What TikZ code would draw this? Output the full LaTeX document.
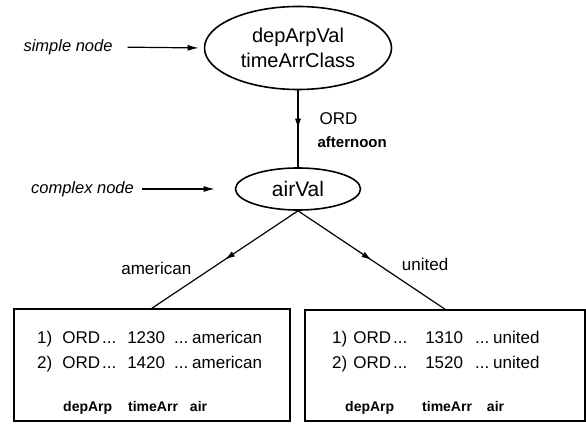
\documentclass[tikz,border=0pt]{standalone}
\usepackage{fontspec}
\setmainfont{Liberation Sans}
\usepackage{tikz}
\usetikzlibrary{arrows.meta,shapes.geometric,decorations.markings}
\newcommand{\tgap}[1]{\hspace*{#1pt}}

\begin{document}
\begin{tikzpicture}[x=1pt, y=-1pt,
  oval/.style={draw, ellipse, line width=1.6pt, inner sep=0pt, align=center, font=\fontsize{20}{25}\selectfont},
  tbl/.style={draw, line width=1.6pt, inner sep=0pt},
  row/.style={anchor=base west, inner sep=0pt, font=\fontsize{17}{20}\selectfont},
  hdr/.style={anchor=base west, inner sep=0pt, font=\fontsize{14}{17}\selectfont\bfseries},
  note/.style={inner sep=0pt, font=\fontsize{16.5}{20}\selectfont\itshape},
  lab/.style={inner sep=0pt, font=\fontsize{17}{20}\selectfont},
  mid/.style={line width=1.2pt, postaction={decorate},
    decoration={markings, mark=at position 0.5 with {\arrow{Latex[length=10pt,width=6pt]}}}},
  arr/.style={-{Latex[length=11pt,width=6pt]}, line width=1.2pt}
]
\useasboundingbox (0,0) rectangle (586,427);
\node[oval, minimum width=187pt, minimum height=83pt] (dep) at (298,48) {depArpVal\\ timeArrClass};
\node[oval, minimum width=125pt, minimum height=42pt, font=\fontsize{21}{25}\selectfont] (air) at (298,189) {airVal};
\node[tbl, minimum width=276pt, minimum height=112pt] (amBox) at (152,365) {};
\node[tbl, minimum width=280pt, minimum height=111pt] (uaBox) at (445,365.5) {};
\node[note] (simple) at (68,47) {simple node};
\node[note] (complex) at (82.5,189) {complex node};
\draw[arr, shorten <=15pt, shorten >=5pt] (simple.east) -- (dep.west);
\draw[arr, shorten <=8pt, shorten >=20pt] (complex.east) -- (air.west);
\draw[mid] (dep) -- (air)
  node[lab, pos=0.37, right=21pt] (ord) {ORD}
  node[lab, pos=0.67, right=19pt, font=\fontsize{15}{18}\selectfont\bfseries] (aft) {afternoon};
\draw[mid] (air.south) -- (amBox.north) node[lab, pos=0.59, left=20pt] (american) {american};
\draw[mid] (air.south) -- (uaBox.north) node[lab, pos=0.54, right=24pt] (united) {united};
\node[row] (am1) at (37,344) {1)\tgap{10}ORD\tgap{2}...\tgap{11}1230\tgap{9}...\tgap{4}american};
\node[row] (am2) at (37,368) {2)\tgap{10}ORD\tgap{2}...\tgap{11}1420\tgap{9}...\tgap{4}american};
\node[hdr] (amHdr) at (63,411) {depArp\tgap{16}timeArr\tgap{12}air};
\node[row] (ua1) at (332,344) {1)\tgap{6}ORD\tgap{2}...\tgap{18}1310\tgap{12}...\tgap{4}united};
\node[row] (ua2) at (332,368) {2)\tgap{6}ORD\tgap{2}...\tgap{18}1520\tgap{12}...\tgap{4}united};
\node[hdr] (uaHdr) at (345,411) {depArp\tgap{28}timeArr\tgap{15}air};
\end{tikzpicture}
\end{document}
